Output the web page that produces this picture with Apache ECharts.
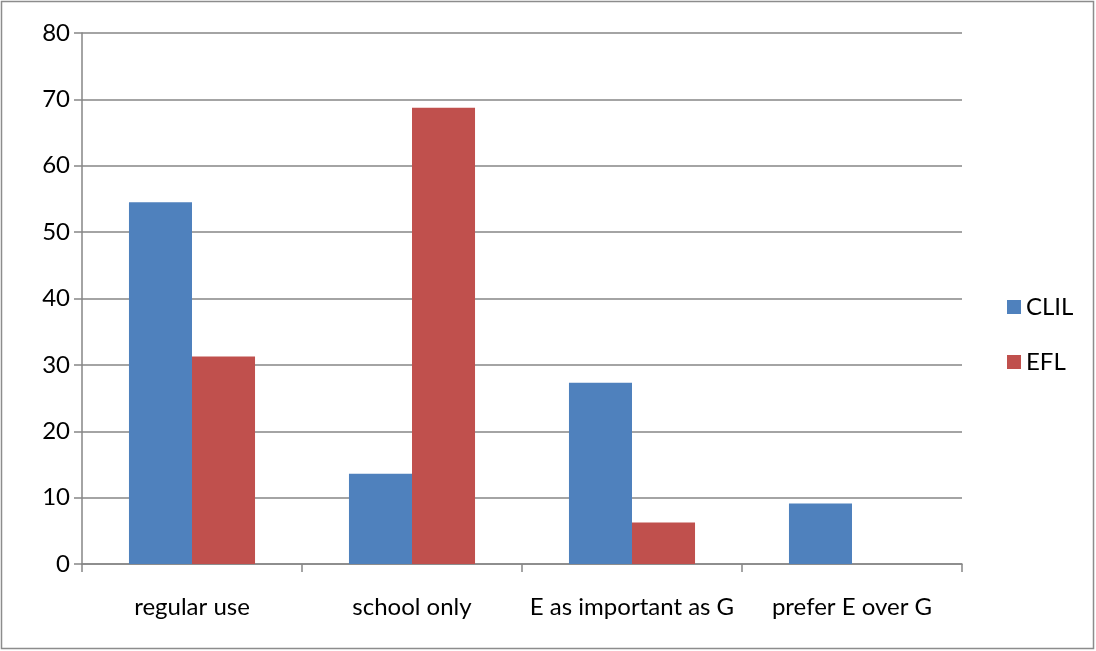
<!DOCTYPE html>
<html>
<head>
<meta charset="utf-8">
<script src="https://cdn.jsdelivr.net/npm/echarts@6/dist/echarts.min.js"></script>
<style>
  html, body { margin: 0; padding: 0; background: #fff; }
  #chart { width: 1096px; height: 651px; }
</style>
</head>
<body>
<div id="chart"></div>
<script>
// Survey answers, percent of each group
const categories = ['regular use', 'school only', 'E as important as G', 'prefer E over G'];
const clil = [54.5, 13.6, 27.3, 9.1];
const efl = [31.25, 68.75, 6.25, 0];
const seriesNames = ['CLIL', 'EFL'];

const font = 'Lato, "Open Sans", "Liberation Sans", sans-serif';
const axisGrey = '#868686';
const fs = 24;

const chart = echarts.init(document.getElementById('chart'), null, { renderer: 'canvas' });
chart.setOption({
  animation: false,
  backgroundColor: '#fff',
  textStyle: { fontFamily: font },
  graphic: [{
    type: 'rect',
    shape: { x: 1.5, y: 1.5, width: 1092, height: 647 },
    style: { fill: 'none', stroke: '#8c8c8c', lineWidth: 1.5 },
    silent: true
  }],
  grid: { left: 82, top: 33, width: 880, height: 531, containLabel: false },
  legend: {
    orient: 'vertical',
    left: 1002,
    top: 290,
    itemWidth: 14,
    itemHeight: 14,
    itemGap: 31,
    icon: 'rect',
    textStyle: { fontSize: fs, color: '#000', fontFamily: font },
    data: seriesNames
  },
  xAxis: {
    type: 'category',
    data: categories,
    axisLine: { lineStyle: { color: axisGrey, width: 1.5 } },
    axisTick: { show: true, length: 8, lineStyle: { color: axisGrey, width: 1.5 } },
    axisLabel: { color: '#000', fontSize: fs, margin: 31, fontFamily: font, interval: 0 },
    splitLine: { show: false }
  },
  yAxis: {
    type: 'value',
    min: 0,
    max: 80,
    interval: 10,
    axisLine: { show: true, lineStyle: { color: axisGrey, width: 1.5 } },
    axisTick: { show: true, length: 8, lineStyle: { color: axisGrey, width: 1.5 } },
    axisLabel: { color: '#000', fontSize: fs, margin: 12, fontFamily: font },
    splitLine: { show: true, lineStyle: { color: axisGrey, width: 1.5 } }
  },
  series: [
    {
      name: seriesNames[0],
      type: 'bar',
      data: clil,
      barGap: '0%',
      barCategoryGap: '42.7%',
      itemStyle: { color: '#4F81BD' }
    },
    {
      name: seriesNames[1],
      type: 'bar',
      data: efl,
      barGap: '0%',
      barCategoryGap: '42.7%',
      itemStyle: { color: '#C0504D' }
    }
  ]
});
</script>
</body>
</html>
